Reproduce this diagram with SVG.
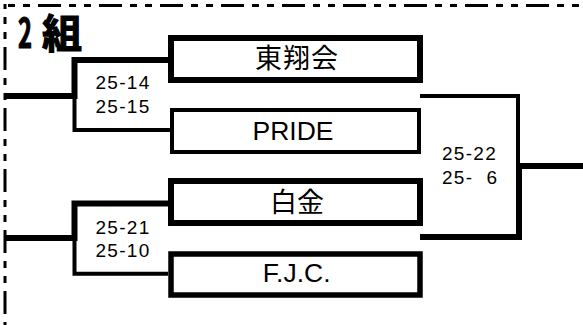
<svg xmlns="http://www.w3.org/2000/svg" width="583" height="325" viewBox="0 0 583 325">
<style>
.thick{fill:none;stroke:#000;stroke-width:6;stroke-linejoin:miter}
.thin{fill:none;stroke:#000;stroke-width:4;stroke-linejoin:miter}
.border{fill:none;stroke:#000;stroke-width:3;stroke-dasharray:23 8 7 8 7 8}
.name{font-family:"Liberation Sans","Noto Sans CJK JP",sans-serif;font-size:26.5px;fill:#000;text-anchor:middle}
.cjk{font-family:"Noto Sans CJK JP",sans-serif;font-size:27px;fill:#000;text-anchor:middle}
.score{font-family:"Liberation Sans",Arial,sans-serif;font-size:19px;letter-spacing:1.3px;fill:#000}
.title{font-family:"Noto Sans CJK JP",sans-serif;font-weight:bold;font-size:40px;fill:#000;stroke:#000;stroke-width:1.2px}
</style>
<rect width="583" height="325" fill="#fff"/>
<g id="frame">
<line class="border" x1="3.5" y1="5.5" x2="583" y2="5.5" stroke-dashoffset="26.5"/>
<line class="border" x1="5" y1="4" x2="5" y2="325" stroke-dashoffset="18"/>
<text class="title" x="18" y="47.5"><tspan textLength="14" lengthAdjust="spacingAndGlyphs">2</tspan><tspan x="42">組</tspan></text>
</g>
<g id="connectors">
<path class="thick" d="M5,96 H74.5 V60 H168"/>
<path class="thin" d="M74.5,96 V130 H170"/>
<path class="thick" d="M5,238 H74.5 V203.5 H168"/>
<path class="thin" d="M74.5,238 V273.7 H168"/>
<path class="thin" d="M420,96 H518 V166"/>
<path class="thick" d="M420,237 H519 V166 H583"/>
</g>
<g id="scores">
<text class="score" x="95.5" y="89">25-14</text>
<text class="score" x="95.5" y="113">25-15</text>
<text class="score" x="95.5" y="234">25-21</text>
<text class="score" x="95.5" y="257.3">25-10</text>
<text class="score" x="442" y="160">25-22</text>
<text class="score" x="442" y="184" xml:space="preserve" style="white-space:pre">25-  6</text>
</g>
<g id="team-toshokai">
<rect class="thick" x="171" y="38" width="249" height="42"/>
<text class="cjk" x="297" y="68" style="letter-spacing:1px">東翔会</text>
</g>
<g id="team-pride">
<rect class="thin" x="172" y="110" width="247" height="42"/>
<text class="name" x="293" y="140">PRIDE</text>
</g>
<g id="team-shirogane">
<rect class="thick" x="171" y="181" width="249" height="42"/>
<text class="cjk" x="297" y="211.5">白金</text>
</g>
<g id="team-fjc">
<rect class="thick" x="171" y="254" width="249" height="41" style="stroke-width:5.5"/>
<text class="name" x="296.7" y="281.7">F.J.C.</text>
</g>
</svg>
